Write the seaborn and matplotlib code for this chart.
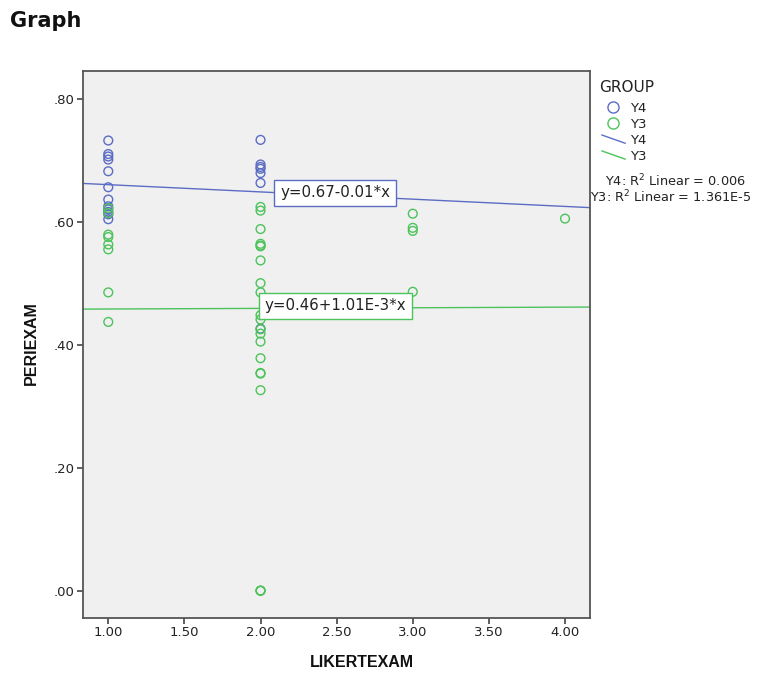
import numpy as np
import pandas as pd
import matplotlib
matplotlib.use("Agg")
import matplotlib.pyplot as plt
import seaborn as sns
from matplotlib.lines import Line2D
from matplotlib.legend_handler import HandlerBase
from matplotlib.ticker import FuncFormatter

# ---- data ----
y4_x = [1, 1, 1, 1, 1, 1, 1, 1, 1, 1, 1, 1,
        2, 2, 2, 2, 2, 2, 2]
y4_y = [0.732, 0.710, 0.706, 0.701, 0.682, 0.656, 0.636, 0.625, 0.620, 0.616, 0.612, 0.604,
        0.733, 0.693, 0.689, 0.686, 0.679, 0.663, 0.426]

y3_x = [1, 1, 1, 1, 1, 1, 1, 1,
        2, 2, 2, 2, 2, 2, 2, 2, 2, 2, 2, 2, 2, 2, 2, 2, 2, 2, 2, 2, 2,
        3, 3, 3, 3,
        4]
y3_y = [0.622, 0.614, 0.579, 0.575, 0.563, 0.555, 0.485, 0.437,
        0.624, 0.618, 0.588, 0.564, 0.561, 0.560, 0.537, 0.500, 0.485, 0.448,
        0.441, 0.425, 0.418, 0.405, 0.378, 0.354, 0.353, 0.326, 0.0, 0.0, 0.0,
        0.613, 0.590, 0.585, 0.486,
        0.605]

groups = ["Y4", "Y3"]
fit_intercepts = [0.672, 0.457]
fit_slopes = [-0.0118, 0.00101]
fit_labels = ["y=0.67-0.01*x", "y=0.46+1.01E-3*x"]
r2_labels = ["Y4: R$^2$ Linear = 0.006", "Y3: R$^2$ Linear = 1.361E-5"]
x_ticks = [1.0, 1.5, 2.0, 2.5, 3.0, 3.5, 4.0]
y_ticks = [0.0, 0.2, 0.4, 0.6, 0.8]

colors = {"Y4": "#5b6cc4", "Y3": "#4cc35b"}

df = pd.DataFrame({
    "LIKERTEXAM": y4_x + y3_x,
    "PERIEXAM": y4_y + y3_y,
    "GROUP": ["Y4"] * len(y4_x) + ["Y3"] * len(y3_x),
})

sns.set_theme(style="white")
plt.rcParams["font.family"] = ["DejaVu Sans"]

fig = plt.figure(figsize=(7.6, 6.74), dpi=100)
ax = fig.add_axes([83 / 760, 1 - 618 / 674, (590 - 83) / 760, (618 - 71) / 674])
ax.set_facecolor("#f0f0f0")

xlim = (0.834, 4.164)
ylim = (-0.0444, 0.845)
ax.set_xlim(*xlim)
ax.set_ylim(*ylim)

# fit lines
xs = np.array(xlim)
for g, b0, b1 in zip(groups, fit_intercepts, fit_slopes):
    ax.plot(xs, b0 + b1 * xs, color=colors[g], lw=1.0, zorder=2)

sns.scatterplot(data=df, x="LIKERTEXAM", y="PERIEXAM", hue="GROUP",
                hue_order=groups, palette=colors, s=40, legend=False,
                ax=ax, zorder=3)
for coll in ax.collections:
    fc = coll.get_facecolors()
    coll.set_edgecolors(fc)
    coll.set_facecolors("none")
    coll.set_linewidths(1.0)

ax.set_xlim(*xlim)
ax.set_ylim(*ylim)

# equation labels
eq_pos = [(2.49, 0.6467), (2.49, 0.463)]
for g, lab, (px, py) in zip(groups, fit_labels, eq_pos):
    ax.text(px, py, lab, ha="center", va="center", fontsize=10.8, color="#222222",
            zorder=4,
            bbox=dict(boxstyle="square,pad=0.38", fc="white", ec=colors[g], lw=1.0))

ax.set_xticks(x_ticks)
ax.set_yticks(y_ticks)
ax.xaxis.set_major_formatter(FuncFormatter(lambda v, p: f"{v:.2f}"))
ax.yaxis.set_major_formatter(FuncFormatter(lambda v, p: f"{v:.2f}"[1:] if v < 1 else f"{v:.2f}"))
ax.tick_params(axis="both", direction="out", length=4, width=1.2, color="#444444",
               labelsize=9.5, labelcolor="#222222", pad=2, bottom=True, left=True)
for sp in ax.spines.values():
    sp.set_color("#555555")
    sp.set_linewidth(1.3)

ax.set_xlabel("LIKERTEXAM", fontsize=11.5, fontweight="bold", family="Liberation Sans", color="#111111")
ax.set_ylabel("PERIEXAM", fontsize=11.5, fontweight="bold", family="Liberation Sans", color="#111111")
ax.xaxis.set_label_coords((362 - 83) / 507, -37 / 547)
ax.yaxis.set_label_coords((39 - 83) / 507, (618 - 343) / 547)

fig.text(10 / 760, 1 - 21 / 674, "Graph", fontsize=15, fontweight="bold",
         ha="left", va="center", color="#111111")


# legend
class DiagHandler(HandlerBase):
    def create_artists(self, legend, orig_handle, xdescent, ydescent, width, height, fontsize, trans):
        x0 = -xdescent + width * 0.1
        x1 = -xdescent + width * 0.95
        y0 = -ydescent + height * 0.95
        y1 = -ydescent + height * 0.05
        ln = Line2D([x0, x1], [y0, y1], color=orig_handle.get_color(), lw=1.0)
        ln.set_transform(trans)
        return [ln]


handles = [
    Line2D([], [], ls="none", marker="o", markersize=8, mfc="none", mec=colors["Y4"], mew=1.0),
    Line2D([], [], ls="none", marker="o", markersize=8, mfc="none", mec=colors["Y3"], mew=1.0),
    Line2D([], [], color=colors["Y4"], lw=1.0),
    Line2D([], [], color=colors["Y3"], lw=1.0),
]
labels = ["Y4", "Y3", "Y4", "Y3"]
leg = fig.legend(handles, labels, title="GROUP", loc="upper left",
                 bbox_to_anchor=(599 / 760, 1 - 80 / 674), frameon=False,
                 fontsize=9.5, title_fontsize=11, handlelength=2.1, handletextpad=0.25,
                 labelspacing=0.22, alignment="left", borderaxespad=0, borderpad=0,
                 handler_map={handles[2]: DiagHandler(), handles[3]: DiagHandler()})
leg._legend_box.sep = 5
for t in leg.get_texts():
    t.set_color("#222222")
leg.get_title().set_color("#222222")

fig.text(675 / 760, 1 - 181 / 674, r2_labels[0], fontsize=9.3, ha="center", va="center", color="#222222")
fig.text(671 / 760, 1 - 197 / 674, r2_labels[1], fontsize=9.3, ha="center", va="center", color="#222222")

fig.savefig("out.png", dpi=100)
